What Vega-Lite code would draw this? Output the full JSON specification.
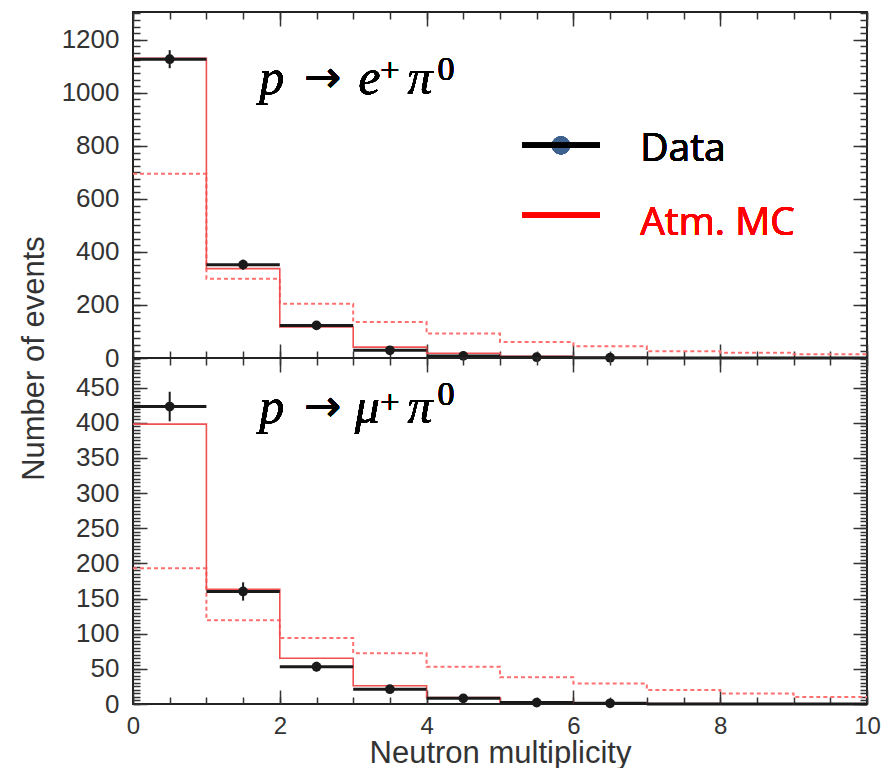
{
  "$schema": "https://vega.github.io/schema/vega-lite/v6.json",
  "padding": {"left": 17, "top": 10, "right": 5, "bottom": 0},
  "background": "white",
  "datasets": {
    "top": [
      {"lo": 0, "hi": 1, "mid": 0.5, "data": 1127, "err_lo": 1093, "err_hi": 1161, "atm_mc": 1130, "sig_mc": 695},
      {"lo": 1, "hi": 2, "mid": 1.5, "data": 352, "err_lo": 333, "err_hi": 371, "atm_mc": 337, "sig_mc": 299},
      {"lo": 2, "hi": 3, "mid": 2.5, "data": 123, "err_lo": 112, "err_hi": 134, "atm_mc": 117, "sig_mc": 205},
      {"lo": 3, "hi": 4, "mid": 3.5, "data": 29, "err_lo": 23, "err_hi": 35, "atm_mc": 41, "sig_mc": 136},
      {"lo": 4, "hi": 5, "mid": 4.5, "data": 8, "err_lo": 5, "err_hi": 11, "atm_mc": 18, "sig_mc": 92},
      {"lo": 5, "hi": 6, "mid": 5.5, "data": 3, "err_lo": 1, "err_hi": 5, "atm_mc": 6, "sig_mc": 60},
      {"lo": 6, "hi": 7, "mid": 6.5, "data": 1, "err_lo": 0, "err_hi": 2, "atm_mc": 2, "sig_mc": 44},
      {"lo": 7, "hi": 8, "mid": 7.5, "data": 0, "err_lo": 0, "err_hi": 0, "atm_mc": 1, "sig_mc": 25},
      {"lo": 8, "hi": 9, "mid": 8.5, "data": 0, "err_lo": 0, "err_hi": 0, "atm_mc": 0, "sig_mc": 20},
      {"lo": 9, "hi": 10, "mid": 9.5, "data": 0, "err_lo": 0, "err_hi": 0, "atm_mc": 0, "sig_mc": 14},
      {"lo": 10, "hi": null, "mid": null, "data": null, "err_lo": null, "err_hi": null, "atm_mc": 0, "sig_mc": 14}
    ],
    "bottom": [
      {"lo": 0, "hi": 1, "mid": 0.5, "data": 423, "err_lo": 402, "err_hi": 444, "atm_mc": 398, "sig_mc": 193},
      {"lo": 1, "hi": 2, "mid": 1.5, "data": 160, "err_lo": 147, "err_hi": 173, "atm_mc": 163, "sig_mc": 119},
      {"lo": 2, "hi": 3, "mid": 2.5, "data": 53, "err_lo": 46, "err_hi": 60, "atm_mc": 65, "sig_mc": 94},
      {"lo": 3, "hi": 4, "mid": 3.5, "data": 21, "err_lo": 16, "err_hi": 26, "atm_mc": 26, "sig_mc": 72},
      {"lo": 4, "hi": 5, "mid": 4.5, "data": 8, "err_lo": 5, "err_hi": 11, "atm_mc": 9, "sig_mc": 53},
      {"lo": 5, "hi": 6, "mid": 5.5, "data": 2, "err_lo": 1, "err_hi": 3, "atm_mc": 3, "sig_mc": 38},
      {"lo": 6, "hi": 7, "mid": 6.5, "data": 1, "err_lo": 0, "err_hi": 2, "atm_mc": 1, "sig_mc": 29},
      {"lo": 7, "hi": 8, "mid": 7.5, "data": 0, "err_lo": 0, "err_hi": 0, "atm_mc": 0.5, "sig_mc": 20},
      {"lo": 8, "hi": 9, "mid": 8.5, "data": 0, "err_lo": 0, "err_hi": 0, "atm_mc": 0, "sig_mc": 15},
      {"lo": 9, "hi": 10, "mid": 9.5, "data": 0, "err_lo": 0, "err_hi": 0, "atm_mc": 0, "sig_mc": 10},
      {"lo": 10, "hi": null, "mid": null, "data": null, "err_lo": null, "err_hi": null, "atm_mc": 0, "sig_mc": 10}
    ]
  },
  "vconcat": [
    {
      "width": 734,
      "height": 346,
      "data": {"name": "top"},
      "resolve": {"axis": {"x": "independent", "y": "independent"}},
      "layer": [
        {
          "mark": {"type": "line", "interpolate": "step-after", "color": "#ff7070", "strokeDash": [4, 3], "strokeWidth": 2},
          "encoding": {
            "x": {"field": "lo", "type": "quantitative", "scale": {"domain": [0, 10], "nice": false},
              "axis": {"orient": "bottom", "title": null, "labels": false, "values": [0, 2, 4, 6, 8, 10], "tickSize": -14}},
            "y": {"field": "sig_mc", "type": "quantitative", "scale": {"domain": [0, 1305], "nice": false},
              "axis": {"orient": "left", "ticks": false, "format": "d", "values": [0, 200, 400, 600, 800, 1000, 1200], "labelPadding": 14, "labelFlush": false,
                "title": "Number of events", "titleFont": "Liberation Sans", "titleFontSize": 31, "titleFontWeight": "normal", "titleColor": "#333",
                "titleX": -99, "titleY": 346, "titleAngle": -90, "titleAlign": "center", "titleBaseline": "middle"}}
          }
        },
        {
          "mark": {"type": "line", "interpolate": "step-after", "color": "#f05050", "strokeWidth": 1.6},
          "encoding": {
            "x": {"field": "lo", "type": "quantitative",
              "axis": {"orient": "bottom", "title": null, "labels": false, "tickSize": -7,
                "values": [0,0.5,1,1.5,2,2.5,3,3.5,4,4.5,5,5.5,6,6.5,7,7.5,8,8.5,9,9.5,10]}},
            "y": {"field": "atm_mc", "type": "quantitative",
              "axis": {"orient": "left", "title": null, "labels": false, "tickSize": -14, "values": [0, 200, 400, 600, 800, 1000, 1200]}}
          }
        },
        {
          "transform": [{"filter": "datum.hi != null"}],
          "mark": {"type": "rule", "color": "#1a1a1a", "strokeWidth": 3},
          "encoding": {
            "x": {"field": "lo", "type": "quantitative",
              "axis": {"orient": "top", "title": null, "labels": false, "values": [0, 2, 4, 6, 8, 10], "tickSize": -14}},
            "x2": {"field": "hi"},
            "y": {"field": "data", "type": "quantitative",
              "axis": {"orient": "left", "title": null, "labels": false, "tickSize": -7,
                "values": [0,25,50,75,100,125,150,175,200,225,250,275,300,325,350,375,400,425,450,475,500,525,550,575,600,625,650,675,700,725,750,775,800,825,850,875,900,925,950,975,1000,1025,1050,1075,1100,1125,1150,1175,1200,1225,1250,1275,1300]}}
          }
        },
        {
          "transform": [{"filter": "datum.hi != null && datum.data > 0"}],
          "mark": {"type": "rule", "color": "#1a1a1a", "strokeWidth": 2},
          "encoding": {
            "x": {"field": "mid", "type": "quantitative",
              "axis": {"orient": "top", "title": null, "labels": false, "tickSize": -7,
                "values": [0,0.5,1,1.5,2,2.5,3,3.5,4,4.5,5,5.5,6,6.5,7,7.5,8,8.5,9,9.5,10]}},
            "y": {"field": "err_lo", "type": "quantitative",
              "axis": {"orient": "right", "title": null, "labels": false, "tickSize": -14, "values": [0, 200, 400, 600, 800, 1000, 1200]}},
            "y2": {"field": "err_hi"}
          }
        },
        {
          "transform": [{"filter": "datum.hi != null && datum.data > 0"}],
          "mark": {"type": "point", "shape": "circle", "filled": true, "color": "#1a1a1a", "opacity": 1, "size": 95},
          "encoding": {
            "x": {"field": "mid", "type": "quantitative", "axis": null},
            "y": {"field": "data", "type": "quantitative",
              "axis": {"orient": "right", "title": null, "labels": false, "tickSize": -7,
                "values": [0,25,50,75,100,125,150,175,200,225,250,275,300,325,350,375,400,425,450,475,500,525,550,575,600,625,650,675,700,725,750,775,800,825,850,875,900,925,950,975,1000,1025,1050,1075,1100,1125,1150,1175,1200,1225,1250,1275,1300]}}
          }
        },
        {
          "mark": {"type": "text", "text": "p", "font": "Liberation Serif", "fontStyle": "italic", "fontSize": 50, "align": "left", "baseline": "alphabetic", "color": "#000"},
          "encoding": {"x": {"datum": 1.72, "axis": null}, "y": {"datum": 996, "axis": null}}
        },
        {
          "mark": {"type": "text", "text": "→", "font": "DejaVu Sans", "fontSize": 44, "align": "left", "baseline": "alphabetic", "color": "#000"},
          "encoding": {"x": {"datum": 2.33, "axis": null}, "y": {"datum": 1004, "axis": null}}
        },
        {
          "mark": {"type": "text", "text": "e", "font": "Liberation Serif", "fontStyle": "italic", "fontSize": 50, "align": "left", "baseline": "alphabetic", "color": "#000"},
          "encoding": {"x": {"datum": 3.07, "axis": null}, "y": {"datum": 996, "axis": null}}
        },
        {
          "mark": {"type": "text", "text": "+", "font": "Liberation Serif", "fontSize": 34, "align": "left", "baseline": "alphabetic", "color": "#000"},
          "encoding": {"x": {"datum": 3.37, "axis": null}, "y": {"datum": 1043, "axis": null}}
        },
        {
          "mark": {"type": "text", "text": "π", "font": "Liberation Serif", "fontStyle": "italic", "fontSize": 50, "align": "left", "baseline": "alphabetic", "color": "#000"},
          "encoding": {"x": {"datum": 3.74, "axis": null}, "y": {"datum": 996, "axis": null}}
        },
        {
          "mark": {"type": "text", "text": "0", "font": "Liberation Serif", "fontSize": 34, "align": "left", "baseline": "alphabetic", "color": "#000"},
          "encoding": {"x": {"datum": 4.15, "axis": null}, "y": {"datum": 1048, "axis": null}}
        },
        {
          "mark": {"type": "point", "shape": "circle", "filled": true, "color": "#3e6290", "opacity": 1, "size": 330},
          "encoding": {"x": {"datum": 5.83, "axis": null}, "y": {"datum": 802, "axis": null}}
        },
        {
          "mark": {"type": "rule", "color": "#000", "strokeWidth": 5},
          "encoding": {"x": {"datum": 5.3, "axis": null}, "x2": {"datum": 6.36}, "y": {"datum": 802, "axis": null}}
        },
        {
          "mark": {"type": "rule", "color": "#ff0000", "strokeWidth": 5},
          "encoding": {"x": {"datum": 5.3, "axis": null}, "x2": {"datum": 6.36}, "y": {"datum": 538, "axis": null}}
        },
        {
          "mark": {"type": "text", "text": "Data", "font": "Open Sans", "fontSize": 39, "align": "left", "baseline": "alphabetic", "color": "#000"},
          "encoding": {"x": {"datum": 6.91, "axis": null}, "y": {"datum": 742, "axis": null}}
        },
        {
          "mark": {"type": "text", "text": "Atm. MC", "font": "Open Sans", "fontSize": 39, "align": "left", "baseline": "alphabetic", "color": "#ff0000"},
          "encoding": {"x": {"datum": 6.91, "axis": null}, "y": {"datum": 464, "axis": null}}
        }
      ]
    },
    {
      "width": 734,
      "height": 346,
      "data": {"name": "bottom"},
      "resolve": {"axis": {"x": "independent", "y": "independent"}},
      "layer": [
        {
          "mark": {"type": "line", "interpolate": "step-after", "color": "#ff7070", "strokeDash": [4, 3], "strokeWidth": 2},
          "encoding": {
            "x": {"field": "lo", "type": "quantitative", "scale": {"domain": [0, 10], "nice": false},
              "axis": {"orient": "bottom", "ticks": false, "format": "d", "values": [0, 2, 4, 6, 8, 10], "labelPadding": 10, "labelFontSize": 24, "labelFlush": false,
                "title": "Neutron multiplicity", "titleFont": "Liberation Sans", "titleFontSize": 31, "titleFontWeight": "normal", "titleColor": "#333", "titlePadding": 0}},
            "y": {"field": "sig_mc", "type": "quantitative", "scale": {"domain": [0, 492], "nice": false},
              "axis": {"orient": "left", "ticks": false, "title": null, "format": "d", "values": [0, 50, 100, 150, 200, 250, 300, 350, 400, 450], "labelPadding": 14, "labelFlush": false}}
          }
        },
        {
          "mark": {"type": "line", "interpolate": "step-after", "color": "#f05050", "strokeWidth": 1.6},
          "encoding": {
            "x": {"field": "lo", "type": "quantitative",
              "axis": {"orient": "bottom", "title": null, "labels": false, "values": [0, 2, 4, 6, 8, 10], "tickSize": -14}},
            "y": {"field": "atm_mc", "type": "quantitative",
              "axis": {"orient": "left", "title": null, "labels": false, "tickSize": -14, "values": [0, 50, 100, 150, 200, 250, 300, 350, 400, 450]}}
          }
        },
        {
          "transform": [{"filter": "datum.hi != null"}],
          "mark": {"type": "rule", "color": "#1a1a1a", "strokeWidth": 3},
          "encoding": {
            "x": {"field": "lo", "type": "quantitative",
              "axis": {"orient": "bottom", "title": null, "labels": false, "tickSize": -7,
                "values": [0,0.5,1,1.5,2,2.5,3,3.5,4,4.5,5,5.5,6,6.5,7,7.5,8,8.5,9,9.5,10]}},
            "x2": {"field": "hi"},
            "y": {"field": "data", "type": "quantitative",
              "axis": {"orient": "left", "title": null, "labels": false, "tickSize": -7,
                "values": [0,5,10,15,20,25,30,35,40,45,50,55,60,65,70,75,80,85,90,95,100,105,110,115,120,125,130,135,140,145,150,155,160,165,170,175,180,185,190,195,200,205,210,215,220,225,230,235,240,245,250,255,260,265,270,275,280,285,290,295,300,305,310,315,320,325,330,335,340,345,350,355,360,365,370,375,380,385,390,395,400,405,410,415,420,425,430,435,440,445,450,455,460,465,470,475,480,485,490]}}
          }
        },
        {
          "transform": [{"filter": "datum.hi != null && datum.data > 0"}],
          "mark": {"type": "rule", "color": "#1a1a1a", "strokeWidth": 2},
          "encoding": {
            "x": {"field": "mid", "type": "quantitative",
              "axis": {"orient": "top", "title": null, "labels": false, "values": [0, 2, 4, 6, 8, 10], "tickSize": -14}},
            "y": {"field": "err_lo", "type": "quantitative",
              "axis": {"orient": "right", "title": null, "labels": false, "tickSize": -14, "values": [0, 50, 100, 150, 200, 250, 300, 350, 400, 450]}},
            "y2": {"field": "err_hi"}
          }
        },
        {
          "transform": [{"filter": "datum.hi != null && datum.data > 0"}],
          "mark": {"type": "point", "shape": "circle", "filled": true, "color": "#1a1a1a", "opacity": 1, "size": 95},
          "encoding": {
            "x": {"field": "mid", "type": "quantitative",
              "axis": {"orient": "top", "title": null, "labels": false, "tickSize": -7,
                "values": [0,0.5,1,1.5,2,2.5,3,3.5,4,4.5,5,5.5,6,6.5,7,7.5,8,8.5,9,9.5,10]}},
            "y": {"field": "data", "type": "quantitative",
              "axis": {"orient": "right", "title": null, "labels": false, "tickSize": -7,
                "values": [0,5,10,15,20,25,30,35,40,45,50,55,60,65,70,75,80,85,90,95,100,105,110,115,120,125,130,135,140,145,150,155,160,165,170,175,180,185,190,195,200,205,210,215,220,225,230,235,240,245,250,255,260,265,270,275,280,285,290,295,300,305,310,315,320,325,330,335,340,345,350,355,360,365,370,375,380,385,390,395,400,405,410,415,420,425,430,435,440,445,450,455,460,465,470,475,480,485,490]}}
          }
        },
        {
          "mark": {"type": "text", "text": "p", "font": "Liberation Serif", "fontStyle": "italic", "fontSize": 50, "align": "left", "baseline": "alphabetic", "color": "#000"},
          "encoding": {"x": {"datum": 1.72, "axis": null}, "y": {"datum": 400, "axis": null}}
        },
        {
          "mark": {"type": "text", "text": "→", "font": "DejaVu Sans", "fontSize": 44, "align": "left", "baseline": "alphabetic", "color": "#000"},
          "encoding": {"x": {"datum": 2.33, "axis": null}, "y": {"datum": 403, "axis": null}}
        },
        {
          "mark": {"type": "text", "text": "μ", "font": "Liberation Serif", "fontStyle": "italic", "fontSize": 50, "align": "left", "baseline": "alphabetic", "color": "#000"},
          "encoding": {"x": {"datum": 3.02, "axis": null}, "y": {"datum": 400, "axis": null}}
        },
        {
          "mark": {"type": "text", "text": "+", "font": "Liberation Serif", "fontSize": 34, "align": "left", "baseline": "alphabetic", "color": "#000"},
          "encoding": {"x": {"datum": 3.37, "axis": null}, "y": {"datum": 414, "axis": null}}
        },
        {
          "mark": {"type": "text", "text": "π", "font": "Liberation Serif", "fontStyle": "italic", "fontSize": 50, "align": "left", "baseline": "alphabetic", "color": "#000"},
          "encoding": {"x": {"datum": 3.74, "axis": null}, "y": {"datum": 400, "axis": null}}
        },
        {
          "mark": {"type": "text", "text": "0", "font": "Liberation Serif", "fontSize": 34, "align": "left", "baseline": "alphabetic", "color": "#000"},
          "encoding": {"x": {"datum": 4.15, "axis": null}, "y": {"datum": 425, "axis": null}}
        }
      ]
    }
  ],
  "spacing": 0,
  "bounds": "flush",
  "config": {
    "view": {"stroke": "#222", "strokeWidth": 2},
    "axis": {"grid": false, "domain": false, "labelFont": "Liberation Sans", "labelFontSize": 26, "labelColor": "#333", "tickColor": "#333", "tickWidth": 1.5, "zindex": 1}
  }
}
